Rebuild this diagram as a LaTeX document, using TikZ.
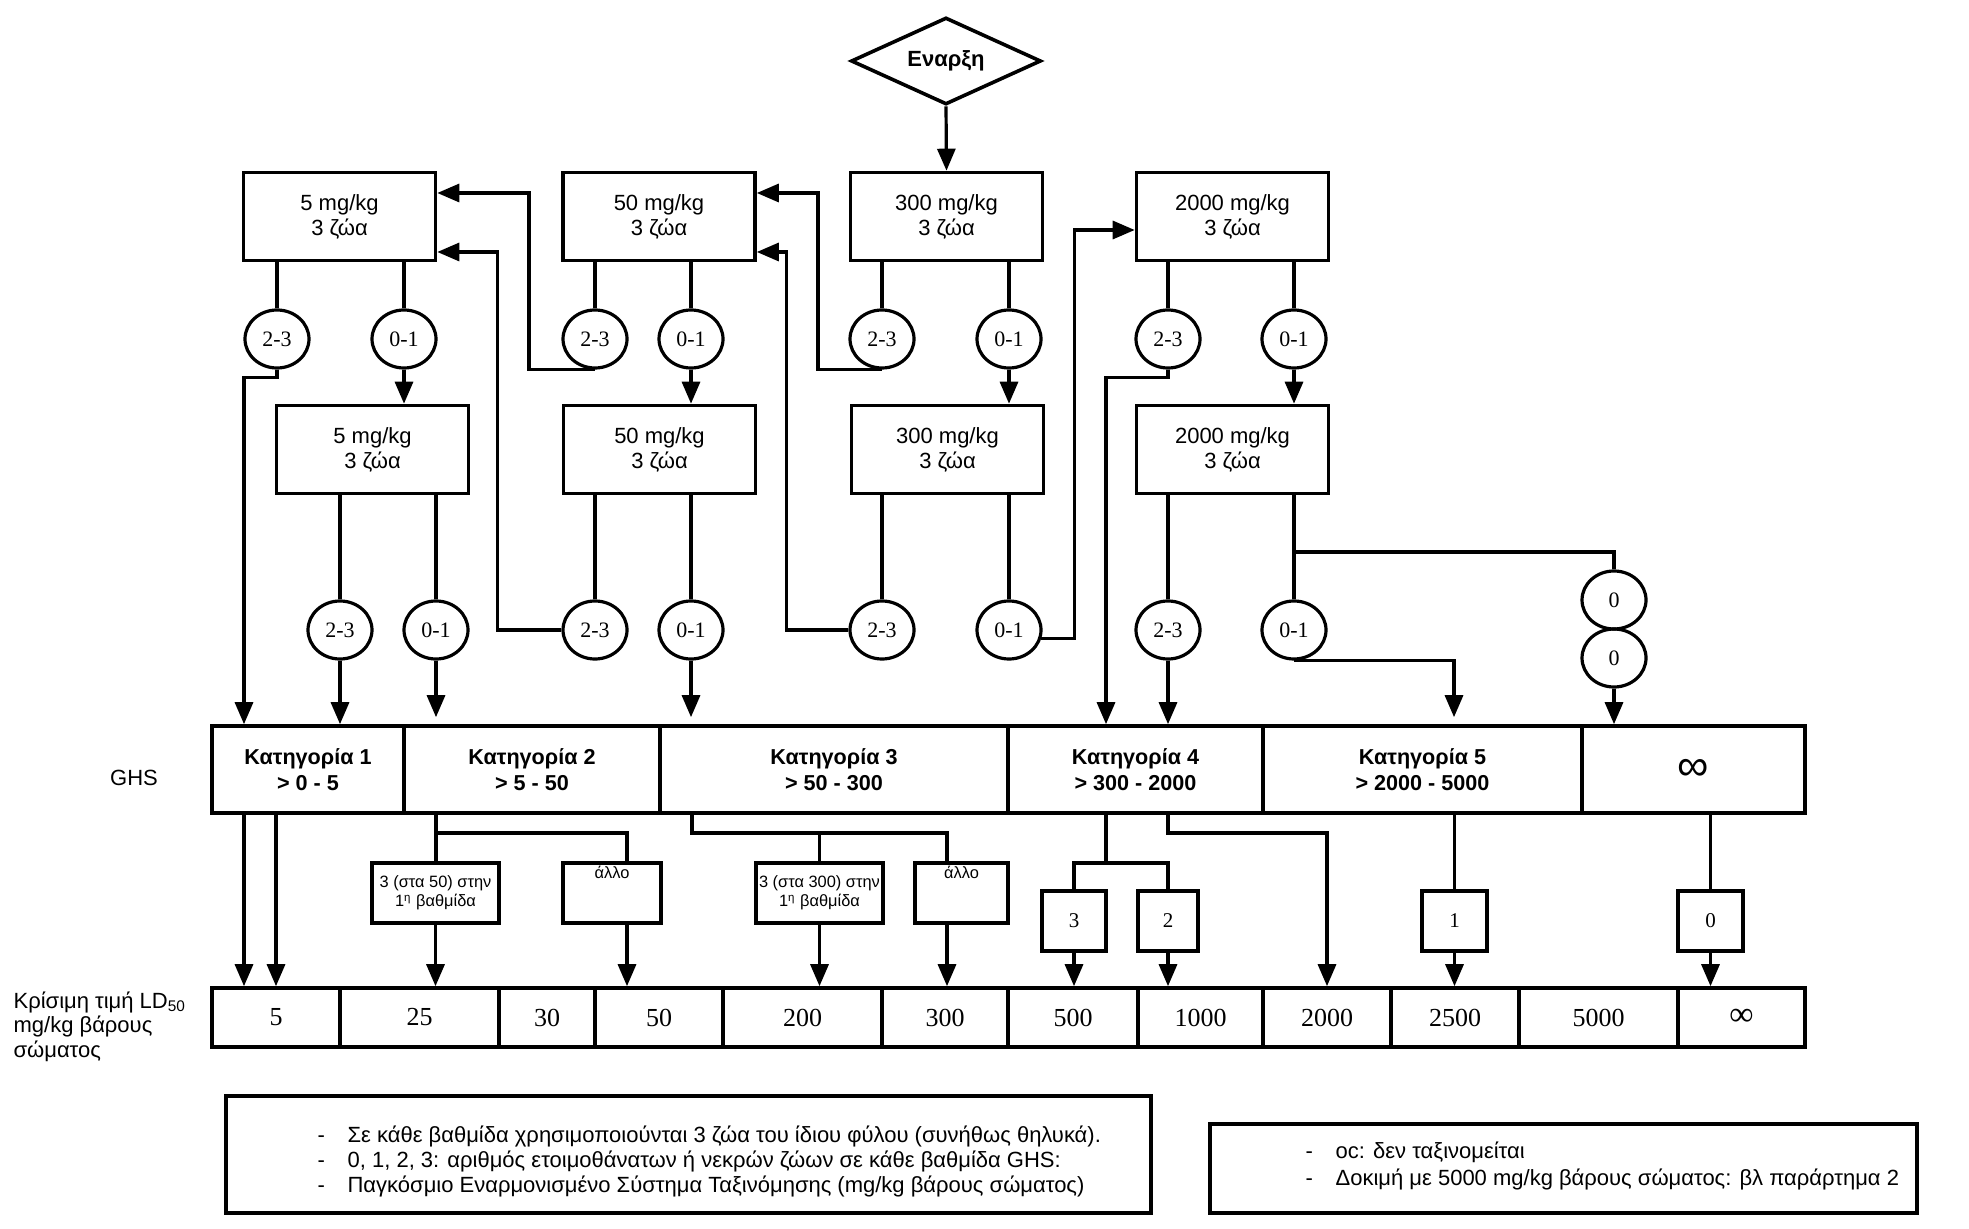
\documentclass[tikz,border=0pt]{standalone}
\usepackage{fontspec}
\setmainfont{Liberation Sans}
\newfontfamily\seriffont{Liberation Serif}
\usetikzlibrary{shapes.geometric,arrows.meta}
\begin{document}
\begin{tikzpicture}[x=0.5pt,y=-0.5pt,line width=1.6pt,
  arr/.style={-{Triangle[length=11pt,width=9pt]}},
  dosebox/.style={draw,line width=1.8pt,minimum width=96pt,minimum height=44pt,inner sep=0pt,align=center,font=\fontsize{11}{12.5}\selectfont},
  resnode/.style={draw,ellipse,line width=1.6pt,minimum width=32pt,minimum height=29pt,inner sep=0pt,font=\seriffont\fontsize{11}{12}\selectfont},
  catcell/.style={draw,line width=1.8pt,minimum height=43.5pt,inner sep=0pt,align=center,font=\bfseries\fontsize{10.8}{12.8}\selectfont},
  ldcell/.style={draw,line width=1.8pt,minimum height=29.5pt,inner sep=0pt,font=\seriffont\fontsize{13}{14}\selectfont},
  smallbox/.style={draw,line width=1.6pt,minimum height=30pt,inner sep=0pt,align=center,font=\fontsize{8.2}{9.5}\selectfont},
  numbox/.style={draw,line width=1.6pt,minimum height=30pt,inner sep=0pt,font=\seriffont\fontsize{10.5}{12}\selectfont},
  lbl/.style={inner sep=0pt,font=\fontsize{11}{12.3}\selectfont},
]
\fill[white] (0,0) rectangle (1969,1229);
\useasboundingbox (0,0) rectangle (1969,1229);

% start
\node[draw,diamond,aspect=2.2,minimum width=95pt,minimum height=43.5pt,inner sep=0pt,line width=1.8pt,font=\bfseries\fontsize{11}{12}\selectfont] (start) at (946,61) {Εναρξη};

% dose boxes
\node[dosebox] (a1) at (339.5,216.5) {5 mg/kg\\3 ζώα};
\node[dosebox] (b1) at (659,216.5) {50 mg/kg\\3 ζώα};
\node[dosebox] (c1) at (946.5,216.5) {300 mg/kg\\3 ζώα};
\node[dosebox] (d1) at (1232.5,216.5) {2000 mg/kg\\3 ζώα};
\node[dosebox] (a2) at (372.5,449.5) {5 mg/kg\\3 ζώα};
\node[dosebox] (b2) at (659.5,449.5) {50 mg/kg\\3 ζώα};
\node[dosebox] (c2) at (947.5,449.5) {300 mg/kg\\3 ζώα};
\node[dosebox] (d2) at (1232.5,449.5) {2000 mg/kg\\3 ζώα};

% result circles
\node[resnode] (a1x) at (277,339) {2-3};
\node[resnode] (a1y) at (404,339) {0-1};
\node[resnode] (b1x) at (595,339) {2-3};
\node[resnode] (b1y) at (691,339) {0-1};
\node[resnode] (c1x) at (882,339) {2-3};
\node[resnode] (c1y) at (1009,339) {0-1};
\node[resnode] (d1x) at (1168,339) {2-3};
\node[resnode] (d1y) at (1294,339) {0-1};
\node[resnode] (a2x) at (340,630) {2-3};
\node[resnode] (a2y) at (436,630) {0-1};
\node[resnode] (b2x) at (595,630) {2-3};
\node[resnode] (b2y) at (691,630) {0-1};
\node[resnode] (c2x) at (882,630) {2-3};
\node[resnode] (c2y) at (1009,630) {0-1};
\node[resnode] (d2x) at (1168,630) {2-3};
\node[resnode] (d2y) at (1294,630) {0-1};
\node[resnode] (z1) at (1614,600) {0};
\node[resnode] (z2) at (1614,658) {0};

% GHS row
\node[lbl] (ghs) at (134,778) {GHS};
\node[catcell,minimum width=96pt] (k1) at (308,769.5) {Κατηγορία 1\\> 0 - 5};
\node[catcell,minimum width=128pt] (k2) at (532,769.5) {Κατηγορία 2\\> 5 - 50};
\node[catcell,minimum width=174pt] (k3) at (834,769.5) {Κατηγορία 3\\> 50 - 300};
\node[catcell,minimum width=127.5pt] (k4) at (1135.5,769.5) {Κατηγορία 4\\> 300 - 2000};
\node[catcell,minimum width=159.5pt] (k5) at (1422.5,769.5) {Κατηγορία 5\\> 2000 - 5000};
\node[catcell,minimum width=111.5pt,font=\fontsize{22}{22}\selectfont] (kinf) at (1693.5,769.5) {∞};

% LD50 row
\node[lbl,anchor=north west,align=left] (ldl) at (12,990) {Κρίσιμη τιμή LD\textsubscript{50}\\mg/kg βάρους\\σώματος};
\node[ldcell,minimum width=64pt] (l1) at (276,1017.5) {5};
\node[ldcell,minimum width=79.5pt] (l2) at (419.5,1017.5) {25};
\node[ldcell,minimum width=48pt] (l3) at (547,1017.5) {30};
\node[ldcell,minimum width=64pt] (l4) at (659,1017.5) {50};
\node[ldcell,minimum width=79.5pt] (l5) at (802.5,1017.5) {200};
\node[ldcell,minimum width=63pt] (l6) at (945,1017.5) {300};
\node[ldcell,minimum width=65pt] (l7) at (1073,1017.5) {500};
\node[ldcell,minimum width=62.5pt] (l8) at (1200.5,1017.5) {1000};
\node[ldcell,minimum width=64pt] (l9) at (1327,1017.5) {2000};
\node[ldcell,minimum width=64pt] (l10) at (1455,1017.5) {2500};
\node[ldcell,minimum width=79.5pt] (l11) at (1598.5,1017.5) {5000};
\node[ldcell,minimum width=63.5pt,font=\seriffont\fontsize{17}{17}\selectfont] (l12) at (1741.5,1017.5) {\raisebox{-2pt}{∞}};

% middle boxes
\node[smallbox,minimum width=63.5pt] (s1) at (435.5,893) {3 (στα 50) στην\\1\textsuperscript{η} βαθμίδα};
\node[smallbox,minimum width=49pt,label={[anchor=north,inner sep=1.5pt,font=\fontsize{8.2}{9.5}\selectfont]north:άλλο}] (s2) at (612,893) {};
\node[smallbox,minimum width=63.5pt] (s3) at (819.5,893) {3 (στα 300) στην\\1\textsuperscript{η} βαθμίδα};
\node[smallbox,minimum width=46.5pt,label={[anchor=north,inner sep=1.5pt,font=\fontsize{8.2}{9.5}\selectfont]north:άλλο}] (s4) at (961.5,893) {};
\node[numbox,minimum width=32pt] (n3) at (1074,921) {3};
\node[numbox,minimum width=30pt] (n2) at (1168,921) {2};
\node[numbox,minimum width=32.5pt] (n1) at (1454.5,921) {1};
\node[numbox,minimum width=32.5pt] (n0) at (1710.5,921) {0};

% notes
\node[draw,line width=1.8pt,minimum width=462.5pt,minimum height=58.5pt,inner sep=0pt] (nb1) at (688.5,1154.5) {};
\node[lbl,anchor=west,font=\fontsize{11}{12.5}\selectfont] (nb1t) at (316,1162) {\begin{tabular}{@{}p{15pt}@{}l@{}}
- & Σε κάθε βαθμίδα χρησιμοποιούνται 3 ζώα του ίδιου φύλου (συνήθως θηλυκά).\\
- & 0, 1, 2, 3: αριθμός ετοιμοθάνατων ή νεκρών ζώων σε κάθε βαθμίδα GHS:\\
- & Παγκόσμιο Εναρμονισμένο Σύστημα Ταξινόμησης (mg/kg βάρους σώματος)
\end{tabular}};
\node[draw,line width=1.8pt,minimum width=353.5pt,minimum height=44.5pt,inner sep=0pt] (nb2) at (1563.5,1168.5) {};
\node[lbl,anchor=west,font=\fontsize{11}{13.5}\selectfont] (nb2t) at (1304,1167) {\begin{tabular}{@{}p{15pt}@{}l@{}}
- & οc: δεν ταξινομείται\\
- & Δοκιμή με 5000 mg/kg βάρους σώματος: βλ παράρτημα 2
\end{tabular}};

% ---------- connectors ----------
\draw[arr] (start.south) -- (c1.north);

% box -> circle lines
\foreach \b/\c in {a1/a1x,a1/a1y,b1/b1x,b1/b1y,c1/c1x,c1/c1y,d1/d1x,d1/d1y,a2/a2x,a2/a2y,b2/b2x,b2/b2y,c2/c2x,c2/c2y,d2/d2x,d2/d2y}
  \draw (\c.north |- \b.south) -- (\c.north);

% 0-1 of first stage -> second stage
\foreach \c/\b in {a1y/a2,b1y/b2,c1y/c2,d1y/d2}
  \draw[arr] (\c.south) -- (\c.south |- \b.north);

% feedback arrows
\draw[arr] (b1x.south) -- ++(-66,0) |- ([yshift=11.75pt]a1.east);
\draw[arr] (b2x.west) -- ++(-64,0) |- ([yshift=-17.75pt]a1.east);
\draw[arr] (c1x.south) -- ++(-64,0) |- ([yshift=11.75pt]b1.east);
\draw[arr] (c2x.west) -- ++(-62,0) |- ([yshift=-17.75pt]b1.east);
\draw[arr] (c2y.-15) -- ++(33,0) |- ([yshift=-6.75pt]d1.west);

% arrows into GHS row
\coordinate (k1in) at ([xshift=-32pt]k1.north);
\coordinate (k4in) at ([xshift=-14.75pt]k4.north);
\coordinate (k5in) at ([xshift=15.75pt]k5.north);
\draw[arr] (a1x.south) -- ++(0,8) -| (k1in);
\draw[arr] (d1x.south) -- ++(0,8) -| (k4in);
\draw[arr] (a2x.south) -- (a2x.south |- k1.north);
\draw[arr,shorten >=3.5pt] (a2y.south) -- (a2y.south |- k2.north);
\draw[arr,shorten >=3.5pt] (b2y.south) -- (b2y.south |- k3.north);
\draw[arr] (d2x.south) -- (d2x.south |- k4.north);
\draw[arr,shorten >=3.5pt] (d2y.south) -| (k5in);
\coordinate (br) at (1294,552);
\draw (br) -| (z1.north);
\draw[arr] (z2.south) -- (z2.south |- kinf.north);

% GHS -> LD50
\coordinate (g1) at (244,813);
\coordinate (g2) at (276,813);
\coordinate (g3) at (436,813);
\coordinate (g4) at (692,813);
\coordinate (g5) at (1106,813);
\coordinate (g6) at (1168,813);
\coordinate (h2) at (436,833);
\coordinate (h3) at (692,833);
\coordinate (h4) at (1106,863);
\coordinate (h6) at (1168,833);
\coordinate (s2o) at ([xshift=7.5pt]s2.south);
\coordinate (s4o) at ([xshift=-7.25pt]s4.south);

\draw[arr] (g1) -- (g1 |- l1.north);
\draw[arr] (g2) -- (g2 |- l1.north);

\draw (g3) -- (g3 |- s1.north);
\draw (h2) -| ([xshift=7.5pt]s2.north);
\draw[arr] (s1.south) -- (s1.south |- l2.north);
\draw[arr] (s2o) -- (s2o |- l4.north);

\draw (g4) -- (h3) -| ([xshift=-7.25pt]s4.north);
\draw (s3.north |- h3) -- (s3.north);
\draw[arr] (s3.south) -- (s3.south |- l5.north);
\draw[arr] (s4o) -- (s4o |- l6.north);

\draw (g5) -- (h4);
\draw (n3.north) |- (n2.north |- h4) -- (n2.north);
\draw[arr] (n3.south) -- (n3.south |- l7.north);
\draw[arr] (n2.south) -- (n2.south |- l8.north);
\draw[arr] (g6) -- (h6) -| (l9.north);

\draw (n1.north |- k5.south) -- (n1.north);
\draw[arr] (n1.south) -- (n1.south |- l10.north);
\draw (n0.north |- kinf.south) -- (n0.north);
\draw[arr] (n0.south) -- (n0.south |- l12.north);
\end{tikzpicture}
\end{document}
